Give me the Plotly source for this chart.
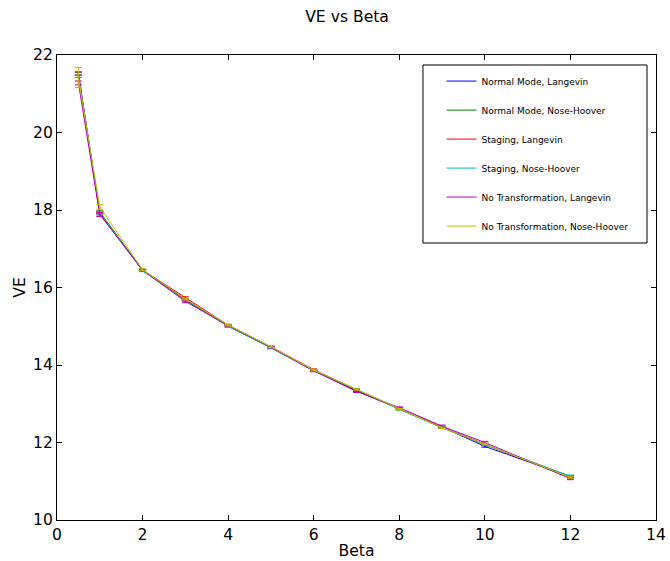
import plotly.graph_objects as go

# Beta values sampled
beta = [0.5, 1, 2, 3, 4, 5, 6, 7, 8, 9, 10, 12]

# VE per method / thermostat
nm_langevin = [21.52, 17.93, 16.44, 15.68, 15.00, 14.45, 13.85, 13.33, 12.87, 12.40, 11.90, 11.12]
nm_nose = [21.45, 17.95, 16.45, 15.70, 15.02, 14.46, 13.86, 13.35, 12.86, 12.38, 11.95, 11.12]
st_langevin = [21.52, 17.90, 16.45, 15.73, 15.03, 14.47, 13.88, 13.36, 12.88, 12.40, 11.96, 11.08]
st_nose = [21.45, 17.93, 16.43, 15.66, 15.00, 14.44, 13.85, 13.37, 12.86, 12.39, 11.95, 11.13]
nt_langevin = [21.28, 17.88, 16.45, 15.64, 15.02, 14.46, 13.85, 13.32, 12.90, 12.42, 12.00, 11.07]
nt_nose = [21.42, 18.08, 16.46, 15.70, 15.03, 14.47, 13.87, 13.37, 12.86, 12.38, 11.96, 11.10]

# Standard errors
err_nm_langevin = [0.04, 0.03, 0.02, 0.02, 0.02, 0.02, 0.02, 0.02, 0.02, 0.02, 0.02, 0.02]
err_nm_nose = [0.03, 0.03, 0.02, 0.02, 0.02, 0.02, 0.02, 0.02, 0.02, 0.02, 0.02, 0.02]
err_st_langevin = [0.04, 0.03, 0.02, 0.03, 0.02, 0.02, 0.02, 0.02, 0.02, 0.02, 0.02, 0.02]
err_st_nose = [0.03, 0.03, 0.02, 0.02, 0.02, 0.02, 0.02, 0.02, 0.02, 0.02, 0.02, 0.03]
err_nt_langevin = [0.05, 0.05, 0.02, 0.03, 0.02, 0.02, 0.02, 0.03, 0.02, 0.03, 0.03, 0.03]
err_nt_nose = [0.26, 0.06, 0.02, 0.02, 0.02, 0.02, 0.02, 0.02, 0.02, 0.02, 0.02, 0.02]

series = [
    ("Normal Mode, Langevin", nm_langevin, err_nm_langevin, "#0000ff"),
    ("Normal Mode, Nose-Hoover", nm_nose, err_nm_nose, "#008000"),
    ("Staging, Langevin", st_langevin, err_st_langevin, "#ff0000"),
    ("Staging, Nose-Hoover", st_nose, err_st_nose, "#00bfbf"),
    ("No Transformation, Langevin", nt_langevin, err_nt_langevin, "#bf00bf"),
    ("No Transformation, Nose-Hoover", nt_nose, err_nt_nose, "#bfbf00"),
]

FS = 15.6

fig = go.Figure()
for i, (name, vals, errs, col) in enumerate(series):
    fig.add_trace(go.Scatter(
        x=beta, y=vals, name=name, mode="lines",
        line=dict(color=col, width=1),
        error_y=dict(type="data", array=errs, visible=True,
                     color=col, thickness=1, width=3.5),
        legendgroup=f"g{i}",
    ))

axis_common = dict(
    showgrid=False, zeroline=False, showline=True, linecolor="black",
    linewidth=1, mirror="ticks", ticks="inside", ticklen=5,
    tickcolor="black", tickfont=dict(size=FS, color="black"),
    automargin=False,
)

# legend frame
fig.add_shape(type="rect", xref="paper", yref="paper",
              x0=0.611, x1=0.985, y0=0.5957, y1=0.9785,
              line=dict(color="black", width=1), fillcolor="white", layer="below")

fig.update_layout(
    width=670, height=561,
    margin=dict(l=57, r=14, t=55, b=41, pad=0),
    paper_bgcolor="white", plot_bgcolor="white",
    font=dict(family="DejaVu Sans", color="black"),
    title=dict(text="VE vs Beta", x=0.518, xanchor="center", y=0.97,
               yanchor="middle", font=dict(size=FS)),
    xaxis=dict(range=[0, 14], dtick=2,
               title=dict(text="Beta", font=dict(size=FS), standoff=2),
               **axis_common),
    yaxis=dict(range=[10, 22], dtick=2,
               title=dict(text="VE", font=dict(size=FS), standoff=3),
               **axis_common),
    legend=dict(x=0.642, y=0.9751, xanchor="left", yanchor="top",
                borderwidth=0, bgcolor="rgba(0,0,0,0)",
                font=dict(size=9), tracegroupgap=10, itemwidth=30),
    showlegend=True,
)

fig.write_html("out.html")
